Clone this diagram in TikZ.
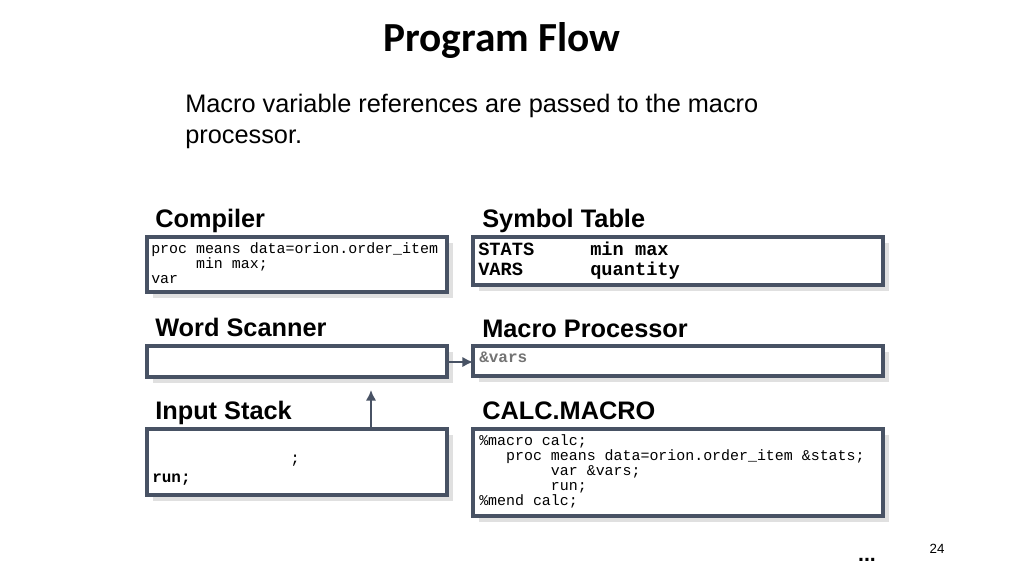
\documentclass[tikz,border=0pt]{standalone}
\usepackage{fontspec}
\setmainfont{Liberation Sans}
\newfontfamily\titlefont{Carlito}
\setmonofont{Liberation Mono}
\usetikzlibrary{arrows.meta}
\definecolor{slate}{RGB}{72,82,100}
\begin{document}
\begin{tikzpicture}[x=0.75pt,y=-0.75pt,
  panel/.style={draw=slate, line width=2.4pt},
  shadow/.style={fill=black!12},
  head/.style={anchor=base west, inner sep=0pt, font=\bfseries\fontsize{19}{21}\selectfont},
  code/.style={anchor=north west, inner sep=0pt, align=left, font=\ttfamily\fontsize{11.2}{11.25}\selectfont},
  arr/.style={draw=slate, line width=2.2pt, -{Latex[length=8pt,width=8pt]}}]
\useasboundingbox (0,0) rectangle (1024,576);
\node[font=\titlefont\bfseries\fontsize{31}{33}\selectfont] (title) at (502,40) {Program Flow};
\node[anchor=north west, inner sep=0pt, align=left, font=\fontsize{19}{23.2}\selectfont] (sub) at (185,94) {Macro variable references are passed to the macro\\processor.};
\foreach \a/\b/\c/\d in {147/237/447/292, 473/237/883/285, 147/346/447/377, 473/346/883/376, 147/429/447/495, 473/429/883/516}
  \fill[shadow] (\a+6,\b+6) rectangle (\c+6,\d+6);
\draw[panel,fill=white] (147,237) rectangle (447,292);
\draw[panel,fill=white] (473,237) rectangle (883,285);
\draw[panel,fill=white] (147,346) rectangle (447,377);
\draw[panel,fill=white] (473,346) rectangle (883,376);
\draw[panel,fill=white] (147,429) rectangle (447,495);
\draw[panel,fill=white] (473,429) rectangle (883,516);
\node[head] (h1) at (155,227) {Compiler};
\node[head] (h2) at (482,227) {Symbol Table};
\node[head] (h3) at (155,336) {Word Scanner};
\node[head] (h4) at (482,337) {Macro Processor};
\node[head] (h5) at (155,419) {Input Stack};
\node[head] (h6) at (482,419) {CALC.MACRO};
\node[code] (c1) at (151,242) {proc means data=orion.order\_item\\\ \ \ \ \ min max;\\var};
\node[code, font=\ttfamily\bfseries\fontsize{14}{15}\selectfont] (c2) at (478,242) {STATS\ \ \ \ \ min max\\VARS\ \ \ \ \ \ quantity};
\node[code, font=\ttfamily\bfseries\fontsize{12}{12}\selectfont, text=black!55] (c4) at (479,352) {\&vars};
\node[code, font=\ttfamily\fontsize{12}{15}\selectfont] (c5s) at (290,455) {;};
\node[code, font=\ttfamily\bfseries\fontsize{12}{15}\selectfont] (c5) at (152,474) {run;};
\node[code] (c6) at (479,434) {\%macro calc;\\\ \ \ proc means data=orion.order\_item \&stats;\\\ \ \ \ \ \ \ \ var \&vars;\\\ \ \ \ \ \ \ \ run;\\\%mend calc;};
\coordinate (a1) at (447,362); \coordinate (a2) at (473,362);
\draw[arr] (a1) -- (a2);
\coordinate (b1) at (371,429); \coordinate (b2) at (371,390);
\draw[arr] (b1) -- (b2);
\node[font=\fontsize{10}{12}\selectfont] (pg) at (937,549) {24};
\node[font=\bfseries\fontsize{16}{16}\selectfont] (dots) at (867,560) {...};
\end{tikzpicture}
\end{document}
